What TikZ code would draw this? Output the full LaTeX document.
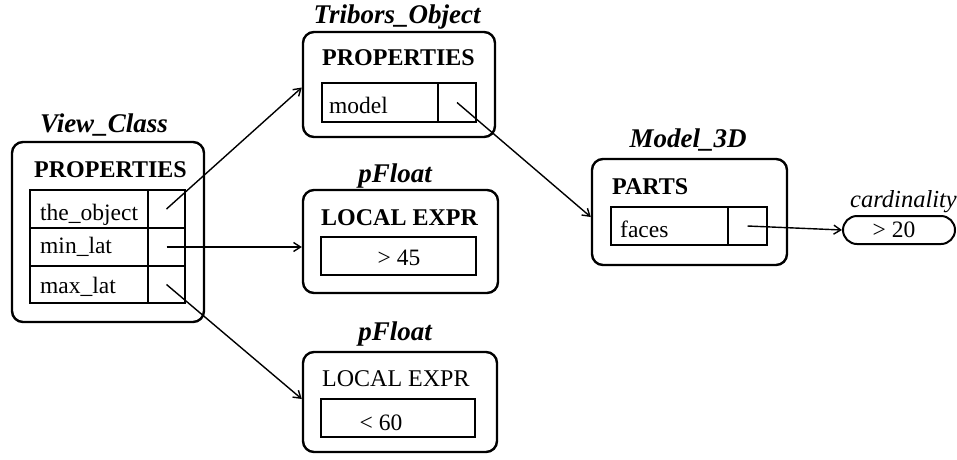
\documentclass[tikz,border=0pt]{standalone}
\usepackage{fontspec}
\setmainfont{Liberation Serif}
\usetikzlibrary{arrows.meta}

\begin{document}
\begin{tikzpicture}[x=1pt,y=-1pt,
  frame/.style={draw, line width=2.4pt, rounded corners=11pt, inner sep=0pt},
  cell/.style={draw, line width=1.5pt, inner sep=0pt},
  pill/.style={draw, line width=2pt, rounded corners=14pt, inner sep=0pt},
  title/.style={font=\fontsize{27}{30}\selectfont\bfseries\itshape, inner sep=0pt, anchor=base},
  head/.style={font=\fontsize{24}{27}\selectfont\bfseries, inner sep=0pt, anchor=base west},
  plainhead/.style={font=\fontsize{24}{27}\selectfont, inner sep=0pt, anchor=base west},
  txt/.style={font=\fontsize{23.5}{26}\selectfont, inner sep=0pt, anchor=base west},
  ctxt/.style={font=\fontsize{23.5}{26}\selectfont, inner sep=0pt, anchor=base},
  arr/.style={line width=1.4pt, -{Straight Barb[length=7pt,width=9pt,line width=1.4pt]}}]
\useasboundingbox (0,0) rectangle (957,459);

% View_Class
\node[title] (vct) at (104,132) {View\_Class};
\node[frame, minimum width=192pt, minimum height=180pt] (vc) at (108,232) {};
\node[head] (vch) at (34,177) {PROPERTIES};
\node[cell, minimum width=118pt, minimum height=38pt] (vcn1) at (89,209) {};
\node[cell, minimum width=37pt, minimum height=38pt] (vcv1) at (166.5,209) {};
\node[cell, minimum width=118pt, minimum height=38pt] (vcn2) at (89,247) {};
\node[cell, minimum width=37pt, minimum height=38pt] (vcv2) at (166.5,247) {};
\node[cell, minimum width=118pt, minimum height=37pt] (vcn3) at (89,284.5) {};
\node[cell, minimum width=37pt, minimum height=37pt] (vcv3) at (166.5,284.5) {};
\node[txt] (vcl1) at (40,220) {the\_object};
\node[txt] (vcl2) at (40,253) {min\_lat};
\node[txt] (vcl3) at (40,293) {max\_lat};

% Tribors_Object
\node[title] (trit) at (397,23) {Tribors\_Object};
\node[frame, minimum width=192pt, minimum height=105pt] (tri) at (399,84.5) {};
\node[head] (trih) at (322,65) {PROPERTIES};
\node[cell, minimum width=116pt, minimum height=39pt] (trin) at (380,102.5) {};
\node[cell, minimum width=38pt, minimum height=39pt] (triv) at (457,102.5) {};
\node[txt] (tril) at (329,113) {model};

% pFloat, lower bound
\node[title] (pfat) at (395,182) {pFloat};
\node[frame, minimum width=195pt, minimum height=103pt] (pfa) at (400.5,241.5) {};
\node[head] (pfah) at (321,225) {LOCAL EXPR};
\node[cell, minimum width=155pt, minimum height=38pt] (pfae) at (398.5,256) {};
\node[ctxt] (pfav) at (399,265) {> 45};

% pFloat, upper bound
\node[title] (pfbt) at (395,340) {pFloat};
\node[frame, minimum width=194pt, minimum height=100pt] (pfb) at (400,402) {};
\node[plainhead] (pfbh) at (322,386) {LOCAL EXPR};
\node[cell, minimum width=154pt, minimum height=38pt] (pfbe) at (398,418) {};
\node[ctxt] (pfbv) at (381,430) {< 60};

% Model_3D
\node[title] (m3dt) at (688,147) {Model\_3D};
\node[frame, minimum width=195pt, minimum height=106pt] (m3d) at (689.5,212) {};
\node[head] (m3dh) at (612,194) {PARTS};
\node[cell, minimum width=117pt, minimum height=38pt] (m3dn) at (669.5,226) {};
\node[cell, minimum width=39pt, minimum height=38pt] (m3dv) at (747.5,226) {};
\node[txt] (m3dl) at (620,237) {faces};

% cardinality constraint
\node[font=\fontsize{24.5}{28}\selectfont\itshape, inner sep=0pt, anchor=base east] (cardt) at (957,207) {cardinality};
\node[pill, minimum width=112pt, minimum height=28pt] (card) at (899,230) {};
\node[ctxt] (cardv) at (894,237) {> 20};

% references
\draw[arr] (vcv1.center) -- ([yshift=-3pt]tri.west);
\draw[arr] (vcv2.center) -- ([yshift=-5.5pt]pfa.west);
\draw[arr] (vcv3.center) -- ([yshift=3pt]pfb.west);
\draw[arr] (triv.center) -- ([yshift=-5pt]m3d.west);
\draw[arr] (m3dv.center) -- (card.west);
\end{tikzpicture}
\end{document}
